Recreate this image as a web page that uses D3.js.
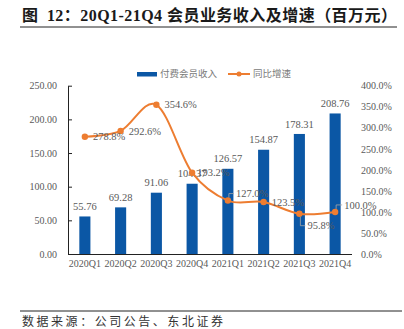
<!DOCTYPE html>
<html>
<head>
<meta charset="utf-8">
<script src="https://cdn.jsdelivr.net/npm/d3@7"></script>
<style>
  html, body { margin: 0; padding: 0; background: #fff; }
  svg { display: block; }
  text { font-family: "Liberation Serif", "Noto Sans CJK SC", serif; }
</style>
</head>
<body>
<div id="chart"></div>
<script>
const quarters = ['2020Q1', '2020Q2', '2020Q3', '2020Q4', '2021Q1', '2021Q2', '2021Q3', '2021Q4'];
const revenue = [55.76, 69.28, 91.06, 104.37, 126.57, 154.87, 178.31, 208.76];
const growth = [278.8, 292.6, 354.6, 193.2, 127.0, 123.5, 95.8, 100.0];
const leftTicks = [0, 50, 100, 150, 200, 250];
const rightTicks = [0, 50, 100, 150, 200, 250, 300, 350, 400];

const W = 404, H = 329;
const blue = '#0B57A5', orange = '#ED7D31', grey = '#595959';

const svg = d3.select('#chart').append('svg')
  .attr('width', W)
  .attr('height', H);

// title + rule
svg.append('text')
  .attr('x', 22).attr('y', 21)
  .attr('font-size', 16).attr('font-weight', 'bold').attr('fill', '#1a1a1a')
  .attr('textLength', 375).attr('lengthAdjust', 'spacing')
  .text('图\u200212：20Q1-21Q4 会员业务收入及增速（百万元）');

svg.append('line')
  .attr('x1', 20).attr('x2', 397).attr('y1', 27).attr('y2', 27)
  .attr('stroke', '#222').attr('stroke-width', 1);

const x = d3.scaleBand()
  .domain(quarters)
  .range([67, 353])
  .paddingInner(0.69)
  .paddingOuter(0.345);

const yL = d3.scaleLinear().domain([0, 250]).range([254, 85.7]);
const yR = d3.scaleLinear().domain([0, 400]).range([254, 85.7]);

// left axis, ticks pointing inward
const axL = svg.append('g')
  .attr('transform', 'translate(68,0)')
  .call(d3.axisLeft(yL).tickValues(leftTicks).tickFormat(d3.format('.2f'))
    .tickSizeInner(-4).tickSizeOuter(0).tickPadding(11));
axL.select('.domain').attr('stroke', '#222');
axL.selectAll('.tick line').attr('stroke', '#222');
axL.selectAll('text').attr('font-size', 10).attr('fill', grey)
  .style('font-family', '"Liberation Serif", serif');

// right axis, labels only
const axR = svg.append('g')
  .attr('transform', 'translate(352,0)')
  .call(d3.axisRight(yR).tickValues(rightTicks).tickFormat(d => d3.format('.1f')(d) + '%')
    .tickSize(0).tickPadding(9));
axR.select('.domain').remove();
axR.selectAll('text').attr('font-size', 10).attr('fill', grey)
  .style('font-family', '"Liberation Serif", serif');

// bars
svg.append('g').selectAll('rect')
  .data(revenue)
  .join('rect')
  .attr('x', (d, i) => x(quarters[i]))
  .attr('y', d => yL(d))
  .attr('width', x.bandwidth())
  .attr('height', d => yL(0) - yL(d))
  .attr('fill', blue);

svg.append('g').selectAll('text')
  .data(revenue)
  .join('text')
  .attr('x', (d, i) => x(quarters[i]) + x.bandwidth() / 2)
  .attr('y', d => yL(d) - 10)
  .attr('dy', '0.35em')
  .attr('text-anchor', 'middle')
  .attr('font-size', 10.5).attr('fill', grey)
  .text(d => d3.format('.2f')(d));

// x axis
const axB = svg.append('g')
  .attr('transform', 'translate(0,254)')
  .call(d3.axisBottom(x).tickSize(0).tickPadding(6));
axB.select('.domain').attr('stroke', '#222').attr('d', 'M68,0.5H352');
axB.selectAll('text').attr('font-size', 10).attr('fill', grey)
  .style('font-family', '"Liberation Serif", serif');

// growth line
const cx = i => x(quarters[i]) + x.bandwidth() / 2;
const line = d3.line()
  .x((d, i) => cx(i))
  .y(d => yR(d))
  .curve(d3.curveCatmullRom.alpha(0));

svg.append('path')
  .datum(growth)
  .attr('d', line)
  .attr('fill', 'none')
  .attr('stroke', orange)
  .attr('stroke-width', 2);

svg.append('g').selectAll('circle')
  .data(growth)
  .join('circle')
  .attr('cx', (d, i) => cx(i))
  .attr('cy', d => yR(d))
  .attr('r', 3.2)
  .attr('fill', orange);

// label placement: a few labels are pushed off the point with a leader line
const shifted = { 4: -7, 6: 12, 7: -7 };
const lbl = svg.append('g');
growth.forEach((d, i) => {
  const px = cx(i), py = yR(d);
  const dy = shifted[i];
  let tx = px + 8, ty = py;
  if (i === 3) tx = px + 5;
  if (dy !== undefined) {
    ty = py + dy;
    tx = px + (i === 7 ? 9 : 8);
    lbl.append('path')
      .attr('d', `M${px + 1},${py + (dy < 0 ? -3 : 3)}V${ty}H${tx - 2}`)
      .attr('fill', 'none')
      .attr('stroke', '#A6A6A6')
      .attr('stroke-width', 0.8);
  }
  lbl.append('text')
    .attr('x', tx).attr('y', ty)
    .attr('dy', '0.35em')
    .attr('font-size', 10.5).attr('fill', grey)
    .text(d3.format('.1f')(d) + '%');
});

// legend
const leg = svg.append('g');
leg.append('rect')
  .attr('x', 137).attr('y', 72).attr('width', 20).attr('height', 4.5)
  .attr('fill', blue);
leg.append('text')
  .attr('x', 160).attr('y', 74).attr('dy', '0.35em')
  .attr('font-size', 9.5).attr('fill', '#7a7a7a')
  .text('付费会员收入');
leg.append('line')
  .attr('x1', 228).attr('x2', 250).attr('y1', 74).attr('y2', 74)
  .attr('stroke', orange).attr('stroke-width', 2);
leg.append('circle')
  .attr('cx', 239).attr('cy', 74).attr('r', 2.5).attr('fill', orange);
leg.append('text')
  .attr('x', 253).attr('y', 74).attr('dy', '0.35em')
  .attr('font-size', 9.5).attr('fill', '#7a7a7a')
  .text('同比增速');

// source
svg.append('line')
  .attr('x1', 20).attr('x2', 402).attr('y1', 311).attr('y2', 311)
  .attr('stroke', '#222').attr('stroke-width', 1);
svg.append('text')
  .attr('x', 22).attr('y', 322).attr('dy', '0.35em')
  .attr('font-size', 12).attr('fill', '#333')
  .attr('textLength', 201).attr('lengthAdjust', 'spacing')
  .text('数据来源：公司公告、东北证券');
</script>
</body>
</html>
